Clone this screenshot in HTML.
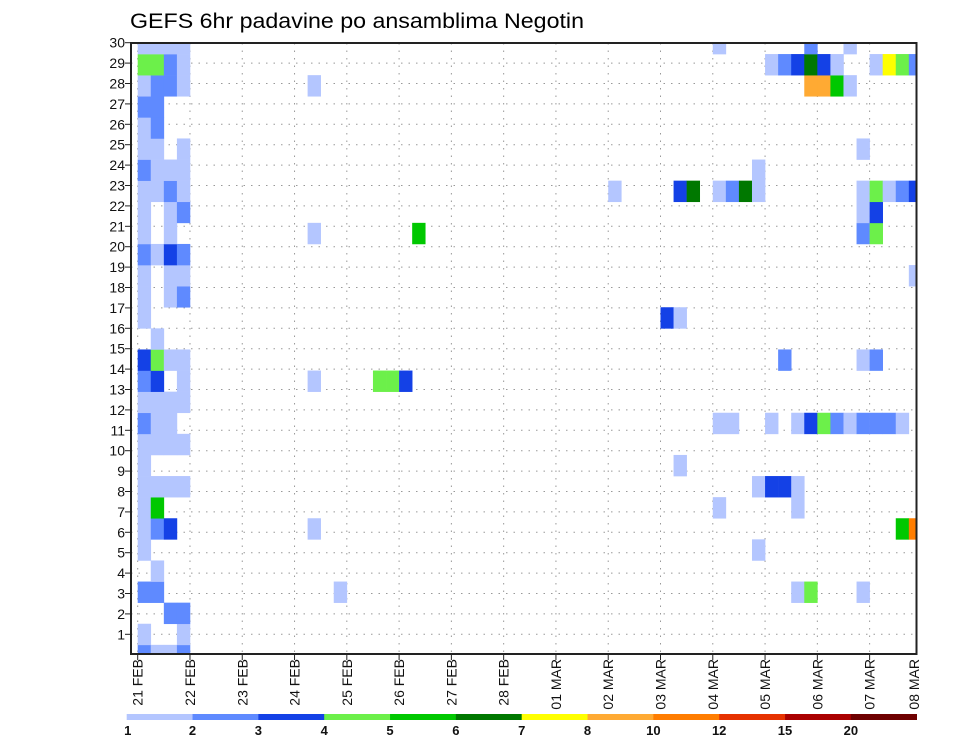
<!DOCTYPE html>
<html><head><meta charset="utf-8"><style>
html,body{margin:0;padding:0;background:#fff;}
svg{display:block;font-family:"Liberation Sans",sans-serif;}
</style></head><body>
<svg id="chart" width="960" height="742" viewBox="0 0 960 742" xmlns="http://www.w3.org/2000/svg">
<rect width="960" height="742" fill="#fff"/>
<text x="130" y="28" font-size="21" textLength="454" lengthAdjust="spacingAndGlyphs" fill="#000">GEFS 6hr padavine po ansamblima Negotin</text>
<defs><clipPath id="plotClip"><rect x="131" y="43" width="785.5" height="611"/></clipPath></defs>
<g id="grid"></g>
<g id="cells" clip-path="url(#plotClip)"></g>
<rect x="131" y="43" width="785.5" height="611" fill="none" stroke="#222" stroke-width="2"/>
<g id="yaxis"></g>
<g id="xaxis"></g>
<g id="legend"></g>
</svg>
<script>
// member labels (y axis)
const memberLabels = [1,2,3,4,5,6,7,8,9,10,11,12,13,14,15,16,17,18,19,20,21,22,23,24,25,26,27,28,29,30];
// date tick labels (x axis)
const dateLabels = ["21 FEB","22 FEB","23 FEB","24 FEB","25 FEB","26 FEB","27 FEB","28 FEB","01 MAR","02 MAR","03 MAR","04 MAR","05 MAR","06 MAR","07 MAR","08 MAR"];
// legend bounds (mm)
const levelBounds = ["1","2","3","4","5","6","7","8","10","12","15","20"];
const levelColors = ["#b4c6ff","#5f8aff","#1441e6","#6cf04a","#00c800","#007800","#ffff00","#ffaa33","#ff7d00","#e63200","#aa0000","#6e0000"];
// precipitation class per cell: rows (index = grid row from bottom), each [timeStep, class]
const cellData = [
 [[0,2],[1,1],[2,1],[3,2]],
 [[0,1],[3,1]],
 [[2,2],[3,2]],
 [[0,2],[1,2],[15,1],[50,1],[51,4],[55,1]],
 [[1,1]],
 [[0,1],[47,1]],
 [[0,1],[1,2],[2,3],[13,1],[58,5],[59,9]],
 [[0,1],[1,5],[44,1],[50,1]],
 [[0,1],[1,1],[2,1],[3,1],[47,1],[48,3],[49,3],[50,1]],
 [[0,1],[41,1]],
 [[0,1],[1,1],[2,1],[3,1]],
 [[0,2],[1,1],[2,1],[44,1],[45,1],[48,1],[50,1],[51,3],[52,4],[53,2],[54,1],[55,2],[56,2],[57,2],[58,1]],
 [[0,1],[1,1],[2,1],[3,1]],
 [[0,2],[1,3],[3,1],[13,1],[18,4],[19,4],[20,3]],
 [[0,3],[1,4],[2,1],[3,1],[49,2],[55,1],[56,2]],
 [[1,1]],
 [[0,1],[40,3],[41,1]],
 [[0,1],[2,1],[3,2]],
 [[0,1],[2,1],[3,1],[59,1]],
 [[0,2],[1,1],[2,3],[3,2]],
 [[0,1],[2,1],[13,1],[21,5],[55,2],[56,4]],
 [[0,1],[2,1],[3,2],[55,1],[56,3]],
 [[0,1],[1,1],[2,2],[3,1],[36,1],[41,3],[42,6],[44,1],[45,2],[46,6],[47,1],[55,1],[56,4],[57,1],[58,2],[59,3]],
 [[0,2],[1,1],[2,1],[3,1],[47,1]],
 [[0,1],[1,1],[3,1],[55,1]],
 [[0,1],[1,2]],
 [[0,2],[1,2]],
 [[0,1],[1,2],[2,2],[3,1],[13,1],[51,8],[52,8],[53,5],[54,1]],
 [[0,4],[1,4],[2,2],[3,1],[48,1],[49,2],[50,3],[51,6],[52,3],[53,1],[56,1],[57,7],[58,4],[59,2]],
 [[0,1],[1,1],[2,1],[3,1],[44,1],[51,2],[54,1]]
];

const NS = "http://www.w3.org/2000/svg";
function mk(tag, attrs, parent){const e=document.createElementNS(NS,tag);for(const k in attrs)e.setAttribute(k,attrs[k]);parent.appendChild(e);return e;}
const X0=137.7, STEP=13.07, DAY=STEP*4;
function xStep(s){return X0+STEP*s;}
function xDay(d){return X0+DAY*d;}
const CELL_H=21.1;
function yCellTop(r){return 634.3-CELL_H*(r-1)-CELL_H/2;}
function yLabel(n){return 634.3-20.4*(n-1);}
const PL=131, PR=916.5, PT=43, PB=654;

const grid=document.getElementById('grid');
memberLabels.forEach(n=>{
  const l=mk('line',{x1:PL,x2:PR,y1:yLabel(n),y2:yLabel(n),stroke:'#999','stroke-width':1,'stroke-dasharray':'1.5,6'},grid);
  
  
});
dateLabels.forEach((d,i)=>{
  const x=xDay(i); if(x>PR)return;
  const l=mk('line',{x1:x,x2:x,y1:PT,y2:PB,stroke:'#999','stroke-width':1,'stroke-dasharray':'1.5,6'},grid);
  
  
});

const cells=document.getElementById('cells');
cellData.forEach((row,r)=>{
  row.forEach(([s,c])=>{
    const rc=mk('rect',{x:xStep(s),y:yCellTop(r),width:STEP+0.3,height:CELL_H+0.3,fill:levelColors[c-1]},cells);
    
    
  });
});

const ya=document.getElementById('yaxis');
memberLabels.forEach(n=>{
  const y=yLabel(n);
  const t=mk('line',{x1:PL-6,x2:PL,y1:y,y2:y,stroke:'#222','stroke-width':1},ya);
  
  
  const tx=mk('text',{x:PL-6,y:y+5,'font-size':14,'text-anchor':'end',fill:'#111'},ya);
  tx.textContent=n;
  
  
});

const xa=document.getElementById('xaxis');
dateLabels.forEach((d,i)=>{
  let x=xDay(i);
  if(x<=PR){
    const t=mk('line',{x1:x,x2:x,y1:PB,y2:PB+6,stroke:'#222','stroke-width':1},xa);
    
    
  } else x=914;
  const tx=mk('text',{x:0,y:0,'font-size':14,'text-anchor':'end',fill:'#111',transform:`translate(${x+5},${PB+5}) rotate(-90)`},xa);
  tx.textContent=d;
  
  
});

const lg=document.getElementById('legend');
const LX0=126.7, LX1=916.7, segW=(LX1-LX0)/levelColors.length;
levelColors.forEach((c,i)=>{
  const r=mk('rect',{x:LX0+segW*i,y:714,width:segW+0.3,height:6,fill:c},lg);
  
  
});
levelBounds.forEach((b,i)=>{
  const t=mk('text',{x:LX0+segW*i+(i===0?1:0),y:735,'font-size':13,'font-weight':'bold','text-anchor':'middle',fill:'#111'},lg);
  t.textContent=b;
  
  
});
</script>
</body></html>
